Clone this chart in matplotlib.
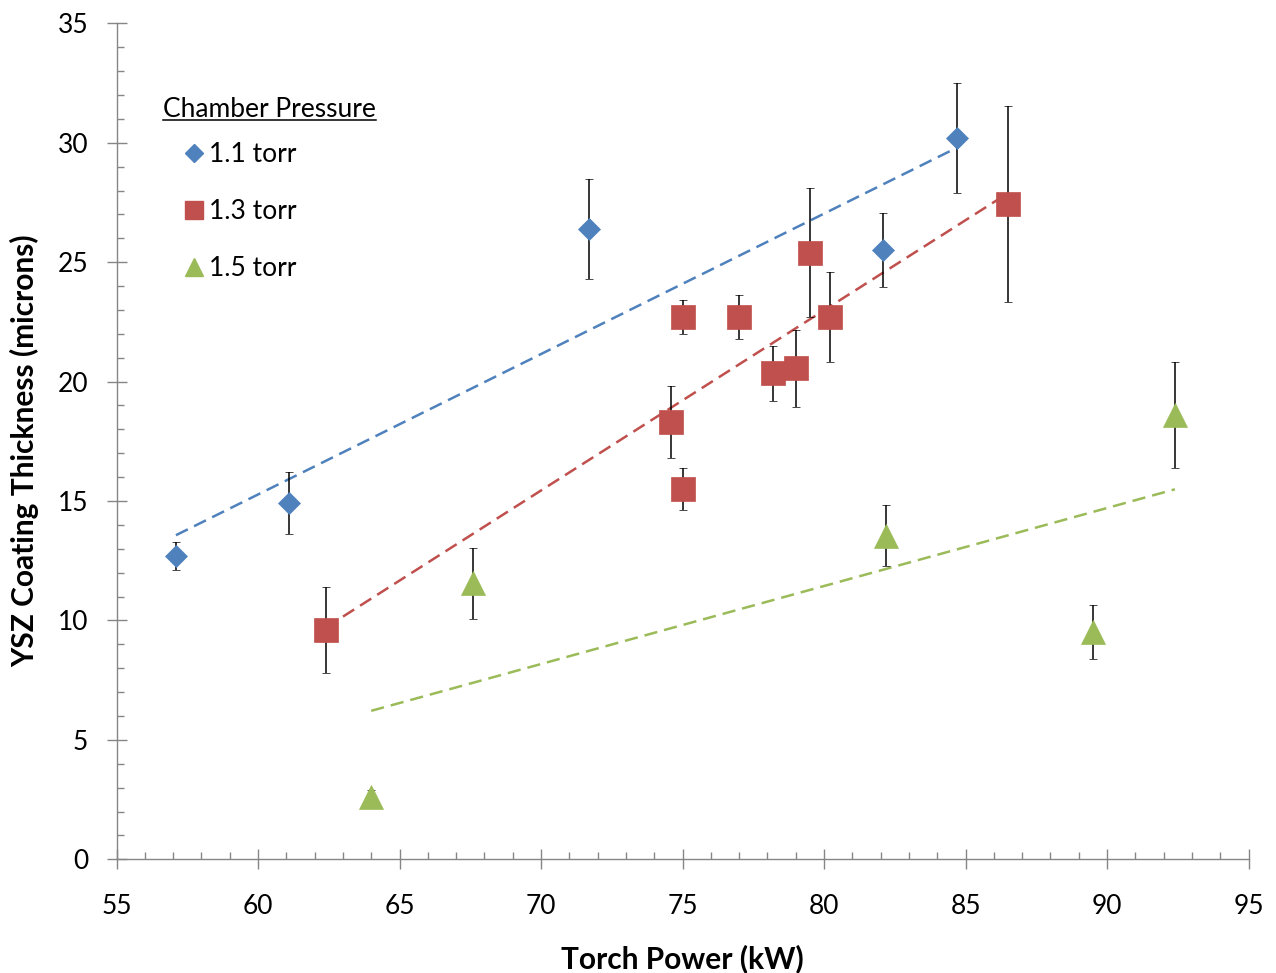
import numpy as np
import matplotlib
matplotlib.use("Agg")
import matplotlib.pyplot as plt
from matplotlib.lines import Line2D

# data: torch power (kW), thickness (microns), +/- error
p11_x = [57.1, 61.1, 71.7, 82.1, 84.7]
p11_y = [12.7, 14.9, 26.4, 25.5, 30.2]
p11_err = [0.6, 1.3, 2.1, 1.55, 2.3]

p13_x = [62.4, 74.6, 75.0, 75.0, 77.0, 78.2, 79.0, 79.5, 80.2, 86.5]
p13_y = [9.6, 18.3, 15.5, 22.7, 22.7, 20.35, 20.55, 25.4, 22.7, 27.45]
p13_err = [1.8, 1.5, 0.87, 0.72, 0.92, 1.15, 1.6, 2.7, 1.9, 4.1]

p15_x = [64.0, 67.6, 82.2, 89.5, 92.4]
p15_y = [2.6, 11.55, 13.55, 9.5, 18.6]
p15_err = [0.3, 1.5, 1.27, 1.13, 2.2]

labels = ['1.1 torr', '1.3 torr', '1.5 torr']
colors = ['#4F81BD', '#C0504D', '#9BBB59']
markers = ['D', 's', '^']
msizes = [11.2, 16.6, 16.6]

plt.rcParams['font.family'] = ['Lato', 'DejaVu Sans']
W, H = 1276, 973
fig = plt.figure(figsize=(W / 100, H / 100), dpi=100)
ax = fig.add_axes([116.5 / W, 1 - 859.3 / H, 1132 / W, 836 / H])

series = [(p11_x, p11_y, p11_err), (p13_x, p13_y, p13_err), (p15_x, p15_y, p15_err)]
for (x, y, e), c, m, ms in zip(series, colors, markers, msizes):
    x = np.array(x)
    y = np.array(y)
    # linear trendline over the span of the data
    k, b = np.polyfit(x, y, 1)
    xs = np.array([x.min(), x.max()])
    ax.plot(xs, k * xs + b, color=c, lw=1.8, linestyle=(0, (5.3, 2.8)), zorder=2)
    ax.errorbar(x, y, yerr=e, fmt=m, color=c, ms=ms, mec=c, mew=0.5,
                ecolor='black', elinewidth=1.1, capsize=3.2, capthick=1.1, zorder=3)

ax.set_xlim(55, 95)
ax.set_ylim(0, 35)
ax.set_xticks(np.arange(55, 96, 5))
ax.set_yticks(np.arange(0, 36, 5))
ax.set_xticks(np.arange(55, 96, 1), minor=True)
ax.set_yticks(np.arange(0, 36, 1), minor=True)

for s in ['top', 'right']:
    ax.spines[s].set_visible(False)
for s in ['left', 'bottom']:
    ax.spines[s].set_color('#868686')
    ax.spines[s].set_linewidth(1.0)

ax.tick_params(axis='both', which='major', direction='inout', length=14, width=1.0,
               color='#868686', labelsize=19, labelcolor='black')
ax.tick_params(axis='both', which='minor', direction='in', length=5.3, width=1.0,
               color='#868686')
ax.tick_params(axis='y', which='major', pad=13.5)
ax.tick_params(axis='x', which='major', pad=18)

ax.set_xlabel('Torch Power (kW)', fontsize=21.5, fontweight='bold')
ax.set_ylabel('YSZ Coating Thickness (microns)', fontsize=21.5, fontweight='bold')
ax.xaxis.set_label_coords(0.5, -0.101)
ax.yaxis.set_label_coords(-0.0685, 0.489)

# legend (markers only) with an underlined heading
handles = [Line2D([], [], linestyle='none', marker=m, color=c, mec=c, ms=ms * 0.78)
           for m, c, ms in zip(markers, colors, msizes)]
leg = ax.legend(handles, labels, loc='upper left',
                bbox_to_anchor=(183.8 / W, 1 - 142 / H), bbox_transform=fig.transFigure,
                frameon=False, fontsize=19, borderpad=0, borderaxespad=0,
                handlelength=0.75, handletextpad=0.22, labelspacing=1.22)

title = fig.text(163 / W, 1 - 117 / H, 'Chamber Pressure', fontsize=19, va='baseline')
fig.canvas.draw()
bb = title.get_window_extent()
fig.add_artist(Line2D([bb.x0, bb.x1], [H - 120, H - 120], transform=None,
                      color='black', lw=1.1))

fig.savefig('out.png', dpi=100)
